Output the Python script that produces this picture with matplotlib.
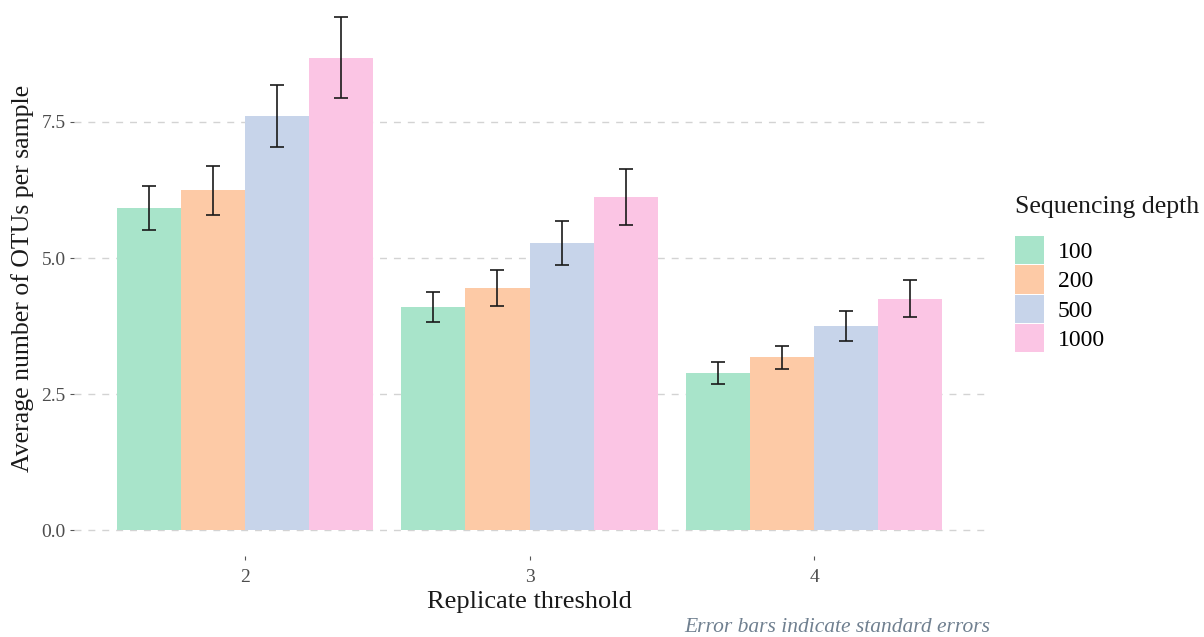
import numpy as np
import matplotlib.pyplot as plt
from matplotlib.patches import Patch

# Données
thresholds = ["2", "3", "4"]
depths = ["100", "200", "500", "1000"]
otu_100 = [5.92, 4.10, 2.89]
otu_200 = [6.25, 4.45, 3.18]
otu_500 = [7.61, 5.28, 3.75]
otu_1000 = [8.68, 6.12, 4.25]
se_100 = [0.41, 0.28, 0.20]
se_200 = [0.45, 0.33, 0.21]
se_500 = [0.57, 0.41, 0.28]
se_1000 = [0.74, 0.52, 0.34]

means = [otu_100, otu_200, otu_500, otu_1000]
errors = [se_100, se_200, se_500, se_1000]
colors = ["#a8e4ca", "#fdcaa6", "#c7d4ea", "#fbc5e4"]

plt.rcParams['font.family'] = ['Liberation Serif', 'DejaVu Serif']

fig = plt.figure(figsize=(12.04, 6.37), dpi=100)
ax = fig.add_axes([74 / 1204, 1 - 556 / 637, (985 - 74) / 1204, 556 / 637])

x = np.arange(len(thresholds))
width = 0.225
for i, (vals, err, col) in enumerate(zip(means, errors, colors)):
    pos = x + (i - 1.5) * width
    ax.bar(pos, vals, width=width, color=col, linewidth=0, zorder=2)
    ax.errorbar(pos, vals, yerr=err, fmt='none', ecolor='#1a1a1a',
                elinewidth=1.2, capsize=4.7, capthick=1.2, zorder=3)

ax.set_xlim(-0.6, 2.6)
ax.set_ylim(-0.47, 9.74)
ax.set_yticks([0, 2.5, 5.0, 7.5])
ax.set_yticklabels(["0.0", "2.5", "5.0", "7.5"])
ax.set_xticks(x)
ax.set_xticklabels(thresholds)

ax.grid(True, axis='y', linestyle=(0, (5, 5)), color='#d3d3d3', linewidth=1.0, zorder=0)
ax.grid(False, axis='x')
for s in ax.spines.values():
    s.set_visible(False)
ax.tick_params(axis='both', length=3, width=0.8, color='#555555',
               labelcolor='#4d4d4d', labelsize=14, pad=3)
ax.tick_params(axis='x', pad=6)

ax.set_xlabel("Replicate threshold", fontsize=19, color='#1a1a1a', labelpad=4)
ax.set_ylabel("Average number of OTUs per sample", fontsize=18.5, color='#1a1a1a', labelpad=5)

# Légende : titre à part, puis les carrés de couleur
fig.text(1015 / 1204, 1 - 207 / 637, "Sequencing depth", ha='left', va='center',
         fontsize=18.5, color='#1a1a1a')
handles = [Patch(facecolor=c, edgecolor='none') for c in colors]
fig.legend(handles, depths, loc='upper left',
           bbox_to_anchor=(994 / 1204, 1 - 215 / 637), frameon=False,
           fontsize=17, handlelength=1.2, handleheight=1.45,
           handletextpad=0.6, labelspacing=0.05)

fig.text(990 / 1204, 1 - 628 / 637, "Error bars indicate standard errors",
         ha='right', va='center', fontsize=15.5, style='italic', color='#708090')

fig.savefig("out.png", dpi=100)
